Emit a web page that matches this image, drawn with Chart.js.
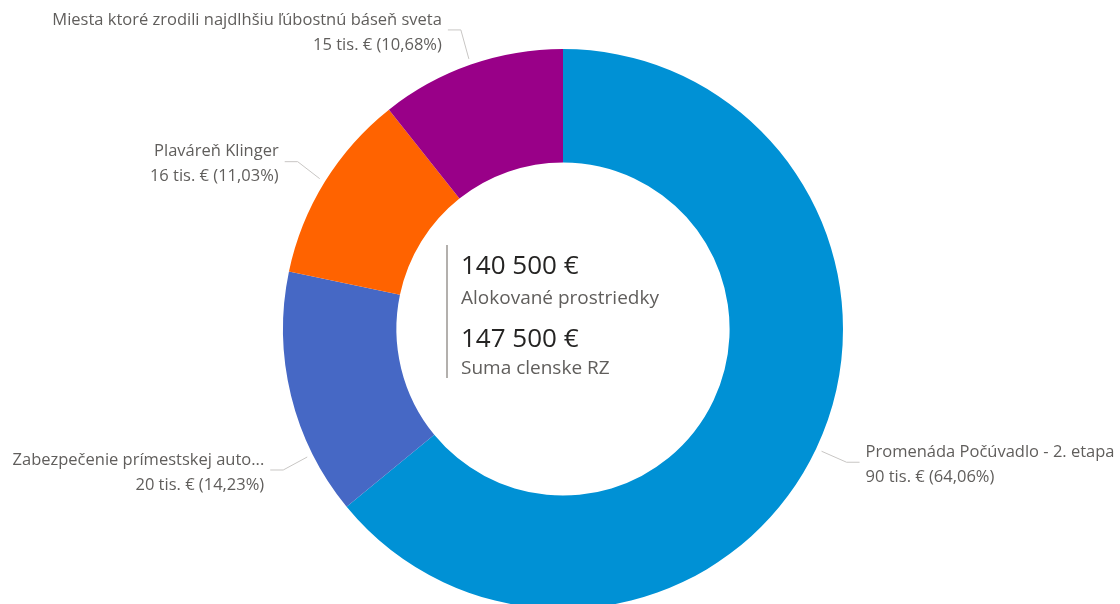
<!DOCTYPE html>
<html>
<head>
<meta charset="utf-8">
<script src="https://cdn.jsdelivr.net/npm/chart.js@4/dist/chart.umd.min.js"></script>
<style>
  html, body { margin: 0; padding: 0; background: #fff; overflow: hidden; }
  #wrap { position: absolute; left: 0; top: 0; width: 1120px; height: 658px; }
</style>
</head>
<body>
<div id="wrap"><canvas id="budgetChart" width="1120" height="658"></canvas></div>
<script>
const categories = [
    'Promenáda Počúvadlo - 2. etapa',
    'Zabezpečenie prímestskej auto...',
    'Plaváreň Klinger',
    'Miesta ktoré zrodili najdlhšiu ľúbostnú báseň sveta'
];
const amounts = [90000, 20000, 15500, 15000];
const memberSum = 147500;
const sliceColors = ['#0091D5', '#4668C5', '#FF6300', '#990088'];

// where the leader line leaves each slice (fraction of the slice) and its elbow offset
const leaderAt = [0.5, 0.25, 0.5, 0.5];
const elbow = [[25, 11], [-24, 13], [-22, -17], [-8, -29]];

const fontFamily = '"Open Sans", "Noto Sans", sans-serif';

function fmtThousands(n) {
    return String(n).replace(/\B(?=(\d{3})+(?!\d))/g, ' ');
}

function labelLines(i) {
    const total = amounts.reduce((a, b) => a + b, 0);
    const pct = (amounts[i] / total * 100).toFixed(2).replace('.', ',');
    return [categories[i], `${Math.round(amounts[i] / 1000)} tis. € (${pct}%)`];
}

const outsideLabels = {
    id: 'outsideLabels',
    afterDraw(chart) {
        const ctx = chart.ctx;
        const arcs = chart.getDatasetMeta(0).data;
        ctx.save();
        arcs.forEach((arc, i) => {
            const p = arc.getProps(['x', 'y', 'startAngle', 'endAngle', 'outerRadius'], true);
            const a = p.startAngle + leaderAt[i] * (p.endAngle - p.startAngle);
            const r = p.outerRadius + 6;
            const x0 = p.x + Math.cos(a) * r;
            const y0 = p.y + Math.sin(a) * r;
            const x1 = x0 + elbow[i][0];
            const y1 = y0 + elbow[i][1];
            const dir = elbow[i][0] >= 0 ? 1 : -1;
            const x2 = x1 + dir * 13;

            ctx.strokeStyle = '#c8c6c4';
            ctx.lineWidth = 1;
            ctx.beginPath();
            ctx.moveTo(x0, y0);
            ctx.lineTo(x1, y1);
            ctx.lineTo(x2, y1);
            ctx.stroke();

            const lines = labelLines(i);
            ctx.fillStyle = '#605E5C';
            ctx.font = `16.5px ${fontFamily}`;
            ctx.textBaseline = 'middle';
            ctx.textAlign = dir > 0 ? 'left' : 'right';
            const tx = x2 + dir * 6;
            ctx.fillText(lines[0], tx, y1 - 10);
            ctx.fillText(lines[1], tx, y1 + 15);
        });
        ctx.restore();
    }
};

const centerText = {
    id: 'centerText',
    afterDraw(chart) {
        const ctx = chart.ctx;
        const arc = chart.getDatasetMeta(0).data[0];
        const cx = arc.x, cy = arc.y;
        const total = amounts.reduce((a, b) => a + b, 0);
        const left = cx - 102;
        ctx.save();
        ctx.strokeStyle = '#b3b0ad';
        ctx.lineWidth = 2;
        ctx.beginPath();
        ctx.moveTo(left - 14, cy - 84);
        ctx.lineTo(left - 14, cy + 49);
        ctx.stroke();

        ctx.textAlign = 'left';
        ctx.textBaseline = 'middle';
        ctx.fillStyle = '#252423';
        ctx.font = `26px ${fontFamily}`;
        ctx.fillText(`${fmtThousands(total)} €`, left, cy - 62);
        ctx.fillText(`${fmtThousands(memberSum)} €`, left, cy + 11);
        ctx.fillStyle = '#605E5C';
        ctx.font = `19px ${fontFamily}`;
        ctx.fillText('Alokované prostriedky', left, cy - 30);
        ctx.fillText('Suma clenske RZ', left, cy + 40);
        ctx.restore();
    }
};

new Chart(document.getElementById('budgetChart'), {
    type: 'doughnut',
    data: {
        labels: categories,
        datasets: [{
            data: amounts,
            backgroundColor: sliceColors,
            borderWidth: 0,
            hoverOffset: 0
        }]
    },
    options: {
        responsive: false,
        animation: false,
        cutout: '59.5%',
        layout: { padding: { left: 283, right: 277, top: 49, bottom: 49 } },
        plugins: {
            legend: { display: false },
            tooltip: { enabled: false }
        }
    },
    plugins: [outsideLabels, centerText]
});
</script>
</body>
</html>
